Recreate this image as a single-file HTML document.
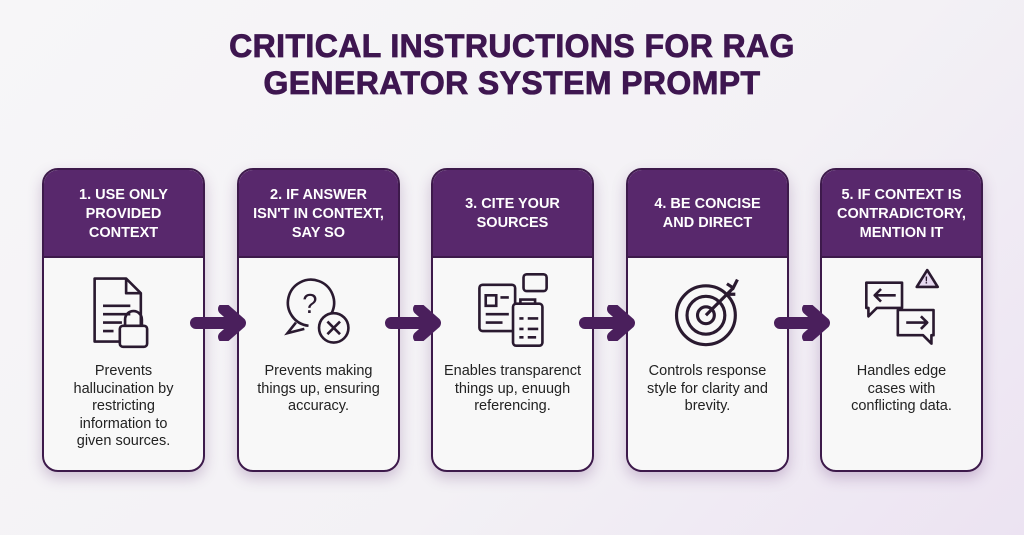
<!DOCTYPE html>
<html><head><meta charset="utf-8"><style>
body{margin:0;width:1024px;height:535px;overflow:hidden;background:linear-gradient(135deg,#f7f6f8 0%,#f3f1f5 60%,#ece3f2 100%);font-family:"Liberation Sans",sans-serif;position:relative}
h1{position:absolute;top:28px;left:0;width:1024px;margin:0;text-align:center;font-size:32px;line-height:37px;font-weight:900;color:#3e1650;letter-spacing:0.4px;-webkit-text-stroke:0.8px #3e1650}
.card{position:absolute;top:168px;width:159px;height:300px;border:2.5px solid #3d1a4b;border-radius:16px;background:#f8f8f8;overflow:hidden;box-shadow:0 6px 14px rgba(90,40,110,.25)}
.hd{height:88px;background:#58286c;color:#fff;font-weight:bold;font-size:14.5px;line-height:19px;text-align:center;display:flex;align-items:center;justify-content:center;padding-top:2px;box-sizing:border-box;border-bottom:2px solid #3d1a4b}
.ic{position:absolute;top:98px;left:0;width:159px;height:84px}
.tx{position:absolute;top:193px;left:0;right:0;text-align:center;font-size:14.5px;line-height:17.5px;color:#222;white-space:nowrap}
.arr{position:absolute;top:305px;width:60px;height:36px}
</style></head><body>
<h1>CRITICAL INSTRUCTIONS FOR RAG<br>GENERATOR SYSTEM PROMPT</h1>

<div class="card" style="left:42px"><div class="hd">1. USE ONLY<br>PROVIDED<br>CONTEXT</div>
<svg class="ic" viewBox="8 0 143 80"><g fill="none" stroke="#2a1a30" stroke-width="2.5" stroke-linejoin="round"><path d="M52 10h30l14 14v46H52z"/><path d="M82 10v14h14"/><path d="M60 36h26M60 44h26M60 52h18M60 60h10"/><rect x="76" y="55" width="26" height="20" rx="3" fill="#f8f8f8"/><path d="M81 55v-6a8 8 0 0 1 16 0v6"/></g></svg>
<div class="tx">Prevents<br>hallucination by<br>restricting<br>information to<br>given sources.</div></div>

<div class="card" style="left:237px"><div class="hd">2. IF ANSWER<br>ISN'T IN CONTEXT,<br>SAY SO</div>
<svg class="ic" viewBox="8 0 143 80"><g fill="none" stroke="#2a1a30" stroke-width="2.5"><path d="M70 55a22 22 0 1 1 22-12"/><path d="M58 52l-8 10 16-4"/><text x="64" y="43" font-size="26" fill="#2a1a30" stroke="none" font-family="Liberation Sans">?</text><circle cx="94" cy="57" r="14" fill="#f8f8f8"/><path d="M88 51l12 12M100 51l-12 12"/></g></svg>
<div class="tx">Prevents making<br>things up, ensuring<br>accuracy.</div></div>

<div class="card" style="left:431px"><div class="hd">3. CITE YOUR<br>SOURCES</div>
<svg class="ic" viewBox="8 0 143 80"><g fill="none" stroke="#2a1a30" stroke-width="2.5"><rect x="48" y="16" width="34" height="44" rx="3"/><path d="M54 26h10v10H54zM68 28h8M54 44h22M54 52h16"/><rect x="90" y="6" width="22" height="16" rx="3"/><rect x="80" y="34" width="28" height="40" rx="3" fill="#f8f8f8"/><path d="M87 34v-4h14v4M86 48h4M94 48h10M86 58h4M94 58h10M86 66h4M94 66h8"/></g></svg>
<div class="tx">Enables transparenct<br>things up, enuugh<br>referencing.</div></div>

<div class="card" style="left:626px"><div class="hd">4. BE CONCISE<br>AND DIRECT</div>
<svg class="ic" viewBox="8 0 143 80"><g fill="none" stroke="#2a1a30" stroke-width="3"><circle cx="78" cy="45" r="28"/><circle cx="78" cy="45" r="18"/><circle cx="78" cy="45" r="8"/><path d="M78 45l26-26M98 15l6 4 4-8M100 25l6 0"/></g></svg>
<div class="tx">Controls response<br>style for clarity and<br>brevity.</div></div>

<div class="card" style="left:820px"><div class="hd">5. IF CONTEXT IS<br>CONTRADICTORY,<br>MENTION IT</div>
<svg class="ic" viewBox="8 0 143 80"><g fill="none" stroke="#2a1a30" stroke-width="2.5" stroke-linejoin="round"><path d="M46 14h34v24H56l-8 8v-8h-2z"/><path d="M74 26H54m6-6l-6 6 6 6"/><path d="M76 40h34v24h-2v8l-8-8H76z" fill="#f8f8f8"/><path d="M84 52h20m-6-6l6 6-6 6"/><path d="M104 2l10 16H94z" fill="#e6d9f0"/></g><text x="101.5" y="15" font-size="10" font-weight="bold" fill="#2a1a30">!</text></svg>
<div class="tx">Handles edge<br>cases with<br>conflicting data.</div></div>

<svg class="arr" style="left:190px" viewBox="0 0 60 36"><path d="M6 18h44M34 4l16 14-16 14" fill="none" stroke="#4a1f5c" stroke-width="12" stroke-linecap="round" stroke-linejoin="round"/></svg>
<svg class="arr" style="left:385px" viewBox="0 0 60 36"><path d="M6 18h44M34 4l16 14-16 14" fill="none" stroke="#4a1f5c" stroke-width="12" stroke-linecap="round" stroke-linejoin="round"/></svg>
<svg class="arr" style="left:579px" viewBox="0 0 60 36"><path d="M6 18h44M34 4l16 14-16 14" fill="none" stroke="#4a1f5c" stroke-width="12" stroke-linecap="round" stroke-linejoin="round"/></svg>
<svg class="arr" style="left:774px" viewBox="0 0 60 36"><path d="M6 18h44M34 4l16 14-16 14" fill="none" stroke="#4a1f5c" stroke-width="12" stroke-linecap="round" stroke-linejoin="round"/></svg>
</body></html>
